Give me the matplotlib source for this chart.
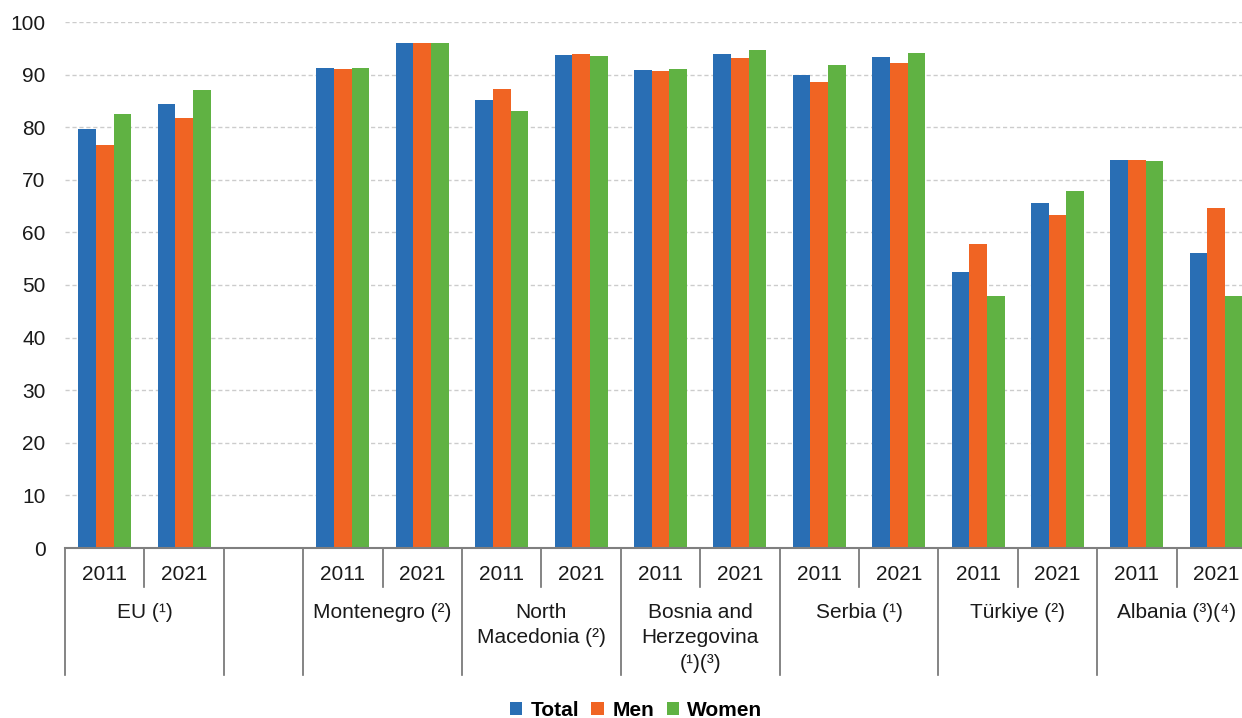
import matplotlib
matplotlib.use("Agg")
import matplotlib.pyplot as plt
import matplotlib.transforms as mtransforms
from matplotlib.patches import Patch

plt.rcParams['font.family'] = ['Liberation Sans', 'DejaVu Sans']

# groups along the x axis (None = empty spacer slot)
groups = ["EU (¹)", None, "Montenegro (²)", "North\nMacedonia (²)",
          "Bosnia and\nHerzegovina\n(¹)(³)", "Serbia (¹)", "Türkiye (²)",
          "Albania (³)(⁴)"]
years = ["2011", "2021"]

total = [79.7, 84.4, 91.2, 96.0, 85.2, 93.8, 90.9, 93.9, 89.9, 93.3, 52.5, 65.6, 73.8, 56.1]
men   = [76.6, 81.7, 91.0, 96.0, 87.3, 94.0, 90.7, 93.2, 88.5, 92.3, 57.7, 63.3, 73.8, 64.7]
women = [82.5, 87.1, 91.2, 96.0, 83.0, 93.6, 91.1, 94.7, 91.8, 94.2, 48.0, 67.8, 73.6, 48.0]

series = [("Total", total, "#296EB4"), ("Men", men, "#F06423"), ("Women", women, "#60B243")]

FS = 15
W, H = 1242, 718
fig = plt.figure(figsize=(W / 100, H / 100), dpi=100)
# axes runs slightly past the right edge of the figure
ax = fig.add_axes([65 / W, (H - 548) / H, (1256 - 65) / W, (548 - 22) / H])

# slot positions: each year gets one slot, spacer gets one slot
slot_x = []
group_spans = []
pos = 0
for g in groups:
    if g is None:
        group_spans.append((pos, pos + 1, None))
        pos += 1
        continue
    for _ in years:
        slot_x.append(pos + 0.5)
        pos += 1
    group_spans.append((pos - 2, pos, g))
n_slots = pos

bw = 0.223
for k, (name, vals, col) in enumerate(series):
    xs = [x + (k - 1) * bw for x in slot_x]
    ax.bar(xs, vals, width=bw, color=col, edgecolor='none', zorder=3, label=name)

ax.set_xlim(0, n_slots)
ax.set_ylim(0, 100)
ax.set_yticks(range(0, 101, 10))
ax.tick_params(axis='y', length=0, pad=14, labelsize=FS, labelcolor='#1a1a1a')
ax.set_xticks([])
ax.yaxis.grid(True, color='#cccccc', linestyle=(0, (3, 2)), linewidth=1.0, zorder=0)
for s in ['left', 'right', 'top']:
    ax.spines[s].set_visible(False)
ax.spines['bottom'].set_color('#7f7f7f')
ax.spines['bottom'].set_linewidth(1.5)
ax.spines['bottom'].set_zorder(4)

# two-level category axis
trans = mtransforms.blended_transform_factory(ax.transData, ax.transAxes)
short_y = -39 / 526
long_y = -127 / 526
line_kw = dict(transform=trans, clip_on=False, color='#6f6f6f', linewidth=1.2)
for a, b, g in group_spans:
    ax.plot([a, a], [0, long_y], **line_kw)
    if g is not None:
        ax.plot([a + 1, a + 1], [0, short_y], **line_kw)
        for j, yr in enumerate(years):
            ax.text(a + j + 0.5, -26 / 526, yr, transform=trans, ha='center',
                    va='center', fontsize=FS, color='#1a1a1a')
        ax.text((a + b) / 2, -55 / 526, g, transform=trans, ha='center', va='top',
                fontsize=FS, color='#1a1a1a', linespacing=1.42)
ax.plot([n_slots, n_slots], [0, long_y], **line_kw)

handles = [Patch(facecolor=c, edgecolor='none') for _, _, c in series]
fig.legend(handles, [s[0] for s in series], loc='center',
           bbox_to_anchor=(636 / W, 1 - 710 / H), ncol=3, frameon=False,
           prop={'weight': 'bold', 'size': FS}, handlelength=0.6,
           handleheight=0.6, handletextpad=0.4, columnspacing=0.6)

fig.savefig("out.png", dpi=100)
